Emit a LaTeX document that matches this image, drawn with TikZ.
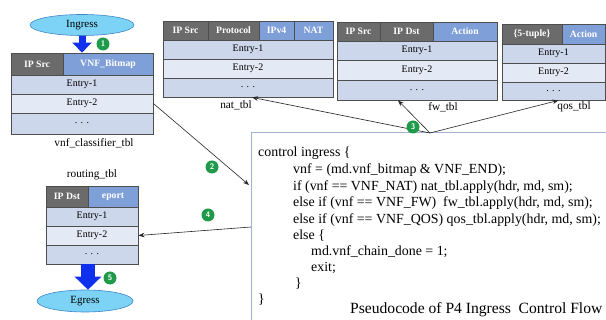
\documentclass[tikz,border=0pt]{standalone}
\usepackage{fontspec}
\setmainfont{Liberation Serif}
\usetikzlibrary{arrows.meta,shapes.geometric}
\definecolor{hdrgray}{HTML}{6B6B6B}
\definecolor{hdrblue}{HTML}{7F9FD8}
\definecolor{rowA}{HTML}{CCD7EC}
\definecolor{rowB}{HTML}{E4EAF5}
\definecolor{bordc}{HTML}{4E4E4E}
\definecolor{ellfill}{HTML}{7DD3F5}
\definecolor{elldraw}{HTML}{3C86C8}
\definecolor{badgeg}{HTML}{1E9A4A}
\definecolor{codeb}{HTML}{A3B3D3}
\definecolor{bigblue}{HTML}{1030F0}
\newcommand\tcell[7]{%
  \pgfmathsetmacro\mycw{#4-#2}%
  \pgfmathsetmacro\mych{#5-#3}%
  \pgfmathsetmacro\mycx{(#2+#4)/2}%
  \pgfmathsetmacro\mycy{(#3+#5)/2}%
  \node[minimum width=\mycw pt, minimum height=\mych pt, inner sep=0pt, #6] (#1) at (\mycx,\mycy) {#7};}
\begin{document}
\begin{tikzpicture}[x=1pt,y=-1pt,
  cellbase/.style={draw=bordc, line width=0.8pt},
  hdrg/.style={cellbase, fill=hdrgray, text=white, font=\fontsize{9.7}{10}\selectfont\bfseries},
  hdrb/.style={cellbase, fill=hdrblue, text=white, font=\fontsize{9.7}{10}\selectfont\bfseries},
  rowa/.style={cellbase, fill=rowA, font=\fontsize{10}{11}\selectfont},
  rowb/.style={cellbase, fill=rowB, font=\fontsize{10}{11}\selectfont},
  tlabel/.style={font=\fontsize{11.3}{13}\selectfont, inner sep=0pt},
  endpt/.style={ellipse, draw=elldraw, fill=ellfill, line width=0.6pt, inner sep=0pt, font=\fontsize{11}{13}\selectfont},
  badge/.style={circle, fill=badgeg, text=white, inner sep=0pt, minimum size=13pt, font=\fontsize{8}{9}\selectfont\bfseries\sffamily},
  conn/.style={draw=black!85, line width=0.6pt, -{Stealth[length=6pt,width=4.5pt]}},
  bigarrowA/.style={draw=bigblue, line width=7pt, -{Triangle[width=19pt,length=10pt]}},
  bigarrowB/.style={draw=bigblue, line width=14pt, -{Triangle[width=26pt,length=13pt]}},
  codeline/.style={anchor=west, inner sep=0pt, font=\fontsize{13.9}{15}\selectfont}
]
\useasboundingbox (0,0) rectangle (606,320);
\clip (0,0) rectangle (606,320);

% Ingress
\node[endpt, minimum width=104pt, minimum height=21pt] (ingress) at (82,25) {Ingress};

% vnf_classifier_tbl
\tcell{vc-h1}{11}{53}{63}{75}{hdrg}{IP Src}
\tcell{vc-h2}{63}{53}{153}{75}{hdrb}{VNF\_Bitmap}
\tcell{vc-r1}{11}{75}{153}{94}{rowa}{Entry-1}
\tcell{vc-r2}{11}{94}{153}{113}{rowb}{Entry-2}
\tcell{vc-r3}{11}{113}{153}{134}{rowa}{. . .}
\node[tlabel] (vc-lbl) at (94,143) {vnf\_classifier\_tbl};

% nat_tbl
\tcell{nat-h1}{163}{21}{208}{40}{hdrg}{IP Src}
\tcell{nat-h2}{208}{21}{259}{40}{hdrg}{Protocol}
\tcell{nat-h3}{259}{21}{294}{40}{hdrb}{IPv4}
\tcell{nat-h4}{294}{21}{333}{40}{hdrb}{NAT}
\tcell{nat-r1}{163}{40}{333}{59}{rowa}{Entry-1}
\tcell{nat-r2}{163}{59}{333}{78}{rowb}{Entry-2}
\tcell{nat-r3}{163}{78}{333}{97}{rowa}{. . .}
\node[tlabel] (nat-lbl) at (236,105) {nat\_tbl};

% fw_tbl
\tcell{fw-h1}{337}{22}{380}{41}{hdrg}{IP Src}
\tcell{fw-h2}{380}{22}{433}{41}{hdrg}{IP Dst}
\tcell{fw-h3}{433}{22}{497}{41}{hdrb}{Action}
\tcell{fw-r1}{337}{41}{497}{60}{rowa}{Entry-1}
\tcell{fw-r2}{337}{60}{497}{80}{rowb}{Entry-2}
\tcell{fw-r3}{337}{80}{497}{100}{rowa}{. . .}
\node[tlabel] (fw-lbl) at (443,107) {fw\_tbl};

% qos_tbl
\tcell{qos-h1}{502}{24}{562}{44}{hdrg}{\{5-tuple\}}
\tcell{qos-h2}{562}{24}{605}{44}{hdrb}{Action}
\tcell{qos-r1}{502}{44}{605}{63}{rowa}{Entry-1}
\tcell{qos-r2}{502}{63}{605}{82}{rowb}{Entry-2}
\tcell{qos-r3}{502}{82}{605}{100}{rowa}{. . .}
\node[tlabel] (qos-lbl) at (574,107) {qos\_tbl};

% routing_tbl
\node[tlabel] (rt-lbl) at (92,175) {routing\_tbl};
\tcell{rt-h1}{46}{186}{88}{207}{hdrg}{IP Dst}
\tcell{rt-h2}{88}{186}{138}{207}{hdrb}{eport}
\tcell{rt-r1}{46}{207}{138}{226}{rowa}{Entry-1}
\tcell{rt-r2}{46}{226}{138}{245}{rowb}{Entry-2}
\tcell{rt-r3}{46}{245}{138}{264}{rowa}{. . .}

% Egress
\node[endpt, minimum width=96pt, minimum height=22pt] (egress) at (85,301) {Egress};

% code box
\tcell{code}{251}{132}{612}{326}{draw=codeb, line width=0.9pt}{}
\node[codeline] (l1) at (258,153) {control ingress \{};
\node[codeline] (l2) at (293,170) {vnf = (md.vnf\_bitmap \& VNF\_END);};
\node[codeline] (l3) at (293,187) {if (vnf == VNF\_NAT) nat\_tbl.apply(hdr, md, sm);};
\node[codeline] (l4) at (293,203) {else if (vnf == VNF\_FW)\ \ fw\_tbl.apply(hdr, md, sm);};
\node[codeline] (l5) at (293,220) {else if (vnf == VNF\_QOS) qos\_tbl.apply(hdr, md, sm);};
\node[codeline] (l6) at (293,236) {else \{};
\node[codeline] (l7) at (311,252) {md.vnf\_chain\_done = 1;};
\node[codeline] (l8) at (311,268) {exit;};
\node[codeline] (l9) at (295,284) {\}};
\node[codeline] (l10) at (258,300) {\}};
\node[anchor=west, inner sep=0pt, font=\fontsize{15.6}{17}\selectfont] (caption) at (350,310) {Pseudocode of P4 Ingress\ \ Control Flow};

% big blue arrows
\draw[bigarrowA] (ingress.south) -- (ingress.south |- vc-h2.north);
\draw[bigarrowB] ([xshift=-4pt]rt-r3.south) -- ([xshift=-4pt]rt-r3.south |- egress.north);

% connectors
\coordinate (c2) at (249,185);
\coordinate (c3) at (430,133);
\coordinate (c4) at (251,227);
\draw[conn] (vc-r2.east) -- (c2);
\draw[conn] (c3) -- ([xshift=4pt]nat-r3.south);
\draw[conn] (c3) -- ([xshift=-19pt]fw-r3.south);
\draw[conn] (c3) -- ([xshift=5pt]qos-r3.south);
\draw[conn] (c4) -- (rt-r2.east);

% badges
\node[badge] (b1) at (103,44) {1};
\node[badge] (b2) at (212,167) {2};
\node[badge] (b3) at (413,127) {3};
\node[badge] (b4) at (208,215) {4};
\node[badge] (b5) at (110,278) {5};
\end{tikzpicture}
\end{document}
